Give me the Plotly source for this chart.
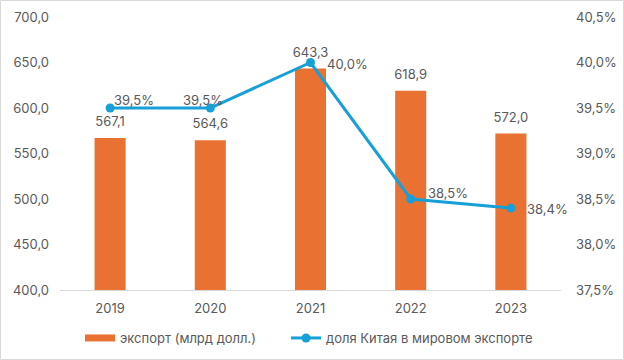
import plotly.graph_objects as go

years = ["2019", "2020", "2021", "2022", "2023"]
export_bn = [567.1, 564.6, 643.3, 618.9, 572.0]
china_share = [39.5, 39.5, 40.0, 38.5, 38.4]
left_ticks = [400, 450, 500, 550, 600, 650, 700]
left_ticktext = ["400,0", "450,0", "500,0", "550,0", "600,0", "650,0", "700,0"]
right_ticks = [37.5, 38.0, 38.5, 39.0, 39.5, 40.0, 40.5]
right_ticktext = ["37,5%", "38,0%", "38,5%", "39,0%", "39,5%", "40,0%", "40,5%"]
bar_name = "экспорт (млрд долл.)"
line_name = "доля Китая в мировом экспорте"

# label placement offsets (px) for share labels
share_dx = [2, -29, 14, 15, 14]
share_dy = [8, 8, -1, 6, -1]

ORANGE = "#E97132"
BLUE = "#179FD7"
GRAY = "#595959"
FONT = "Inter, Roboto, Arial, sans-serif"
FS = 13

W, H = 624, 360
L, R, T, B = 60, 63, 17, 70
pw, ph = W - L - R, H - T - B

def px(x):
    return (x - L) / pw

def py(y):
    return (H - B - y) / ph

fig = go.Figure()
fig.add_trace(go.Bar(
    x=years, y=export_bn, name=bar_name, showlegend=False,
    marker=dict(color=ORANGE, line=dict(width=0)),
))
# bar value labels (drawn beneath the line)
fig.add_trace(go.Scatter(
    x=years, y=export_bn, mode="markers+text", showlegend=False,
    marker=dict(size=12, opacity=0), hoverinfo="skip",
    texttemplate="%{y:.1f}", textposition="top center",
    textfont=dict(size=FS, color=GRAY, family=FONT), cliponaxis=False,
))
# legend entry for bars (wide swatch)
fig.add_trace(go.Scatter(
    x=[None], y=[None], mode="lines", name=bar_name, legend="legend",
    line=dict(color=ORANGE, width=7),
))
fig.add_trace(go.Scatter(
    x=years, y=china_share, name=line_name, legend="legend2",
    yaxis="y2", mode="lines+markers",
    line=dict(color=BLUE, width=3),
    marker=dict(color=BLUE, size=9),
    cliponaxis=False,
))

annotations = []
for i, (v, dx, dy) in enumerate(zip(china_share, share_dx, share_dy)):
    annotations.append(dict(
        x=i, y=v, xref="x", yref="y2", text=f"{v:.1f}%".replace(".", ","),
        showarrow=False, xanchor="left", yanchor="middle", xshift=dx, yshift=dy,
        font=dict(size=FS, color=GRAY, family=FONT),
    ))

legend_common = dict(orientation="h", xanchor="left", yanchor="middle", y=py(338),
                     font=dict(size=FS, color=GRAY, family=FONT),
                     bgcolor="rgba(0,0,0,0)", borderwidth=0)

fig.update_layout(
    width=W, height=H,
    margin=dict(l=L, r=R, t=T, b=B, autoexpand=False),
    paper_bgcolor="white", plot_bgcolor="white",
    separators=", ",
    font=dict(family=FONT, size=FS, color=GRAY),
    bargap=0.69,
    showlegend=True,
    legend=dict(x=px(80), **legend_common),
    legend2=dict(x=px(286), **legend_common),
    xaxis=dict(type="category", range=[-0.5, len(years) - 0.5], autorange=False,
               showgrid=False, showline=True, linecolor="#D9D9D9", linewidth=1,
               ticks="", tickfont=dict(size=FS, color=GRAY), ticklabelstandoff=6),
    yaxis=dict(range=[400, 700], tickvals=left_ticks, ticktext=left_ticktext,
               showgrid=False, zeroline=False, showline=False,
               tickfont=dict(size=FS, color=GRAY), ticks="", ticklabelstandoff=10),
    yaxis2=dict(range=[37.5, 40.5], tickvals=right_ticks, ticktext=right_ticktext,
                overlaying="y", side="right",
                showgrid=False, zeroline=False, showline=False,
                tickfont=dict(size=FS, color=GRAY), ticks="", ticklabelstandoff=14),
    annotations=annotations,
    shapes=[dict(type="rect", xref="paper", yref="paper",
                 x0=px(0.5), x1=px(623.5), y0=py(359.5), y1=py(0.5),
                 line=dict(color="#D9D9D9", width=1), layer="below")],
)

fig.write_html("out.html", config={"displayModeBar": False},
               post_script="document.body.style.margin='0';document.body.style.overflow='hidden';")
